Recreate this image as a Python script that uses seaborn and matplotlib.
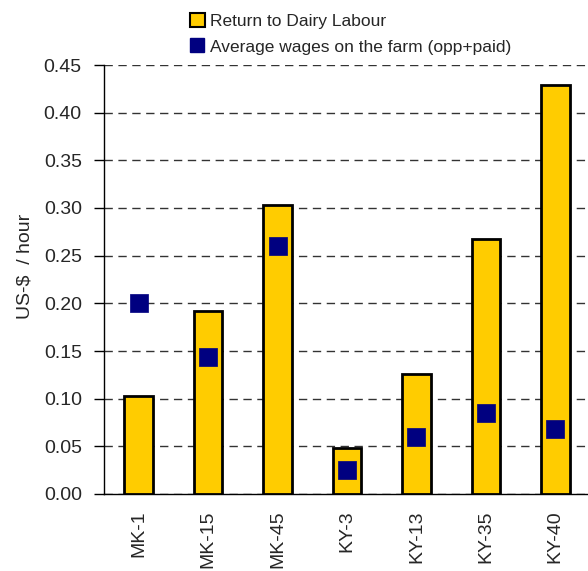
import matplotlib
matplotlib.use("Agg")
import matplotlib.pyplot as plt
import seaborn as sns
import pandas as pd
from matplotlib.lines import Line2D
from matplotlib.patches import Patch

categories = ["MK-1", "MK-15", "MK-45", "KY-3", "KY-13", "KY-35", "KY-40"]
return_labour = [0.103, 0.192, 0.303, 0.048, 0.126, 0.268, 0.429]
avg_wages = [0.200, 0.144, 0.260, 0.025, 0.060, 0.085, 0.068]
yticks = [0.00, 0.05, 0.10, 0.15, 0.20, 0.25, 0.30, 0.35, 0.40, 0.45]

df = pd.DataFrame({"farm": categories, "ret": return_labour, "wage": avg_wages})

sns.set_theme(style="white")
plt.rcParams["font.family"] = ["Liberation Sans", "DejaVu Sans"]

fig = plt.figure(figsize=(5.88, 5.71), dpi=100)
ax = fig.add_axes([104/588, 1-494/571, (590-104)/588, (494-65)/571])

sns.barplot(data=df, x="farm", y="ret", color="#FFCC00", edgecolor="black",
            linewidth=2, width=0.41, saturation=1, ax=ax, zorder=3)
sns.scatterplot(data=df, x="farm", y="wage", marker="s", s=175, color="#000080",
                edgecolor="#000080", linewidth=0.5, ax=ax, zorder=4)

ax.set_ylim(0, 0.45)
ax.set_xlim(-0.5, 6.5)
ax.set_yticks(yticks)
ax.set_yticklabels([f"{v:.2f}" for v in yticks], fontsize=14)
ax.yaxis.grid(True, linestyle=(0, (6, 4)), color="#333333", linewidth=1, zorder=0)
ax.xaxis.grid(False)
ax.set_axisbelow(True)
ax.set_xlabel("")
ax.set_ylabel("US-$  / hour", fontsize=14)
ax.yaxis.set_label_coords(-0.146, 0.53)

ax.set_xticks(range(len(categories)))
ax.set_xticklabels(categories, rotation=90, fontsize=14)
ax.tick_params(axis="x", which="major", length=0, pad=12)
ax.set_xticks([i - 0.5 for i in range(len(categories) + 1)], minor=True)
ax.tick_params(axis="x", which="minor", length=5, width=1, color="black", direction="out")
ax.tick_params(axis="y", which="major", length=7, width=1, color="black", direction="out",
               left=True, pad=9)

for s in ["top", "right"]:
    ax.spines[s].set_visible(False)
for s in ["left", "bottom"]:
    ax.spines[s].set_color("black")
    ax.spines[s].set_linewidth(1)

handles = [
    Patch(facecolor="#FFCC00", edgecolor="black", linewidth=1.5),
    Line2D([], [], marker="s", linestyle="none", markersize=10, color="#000080"),
]
fig.legend(handles, ["Return to Dairy Labour", "Average wages on the farm (opp+paid)"],
           loc="upper left", bbox_to_anchor=(174/588, 1.005), frameon=False,
           fontsize=12.5, handlelength=0.9, handleheight=0.9, handletextpad=0.3,
           labelspacing=0.55)

fig.savefig("out.png", dpi=100)
